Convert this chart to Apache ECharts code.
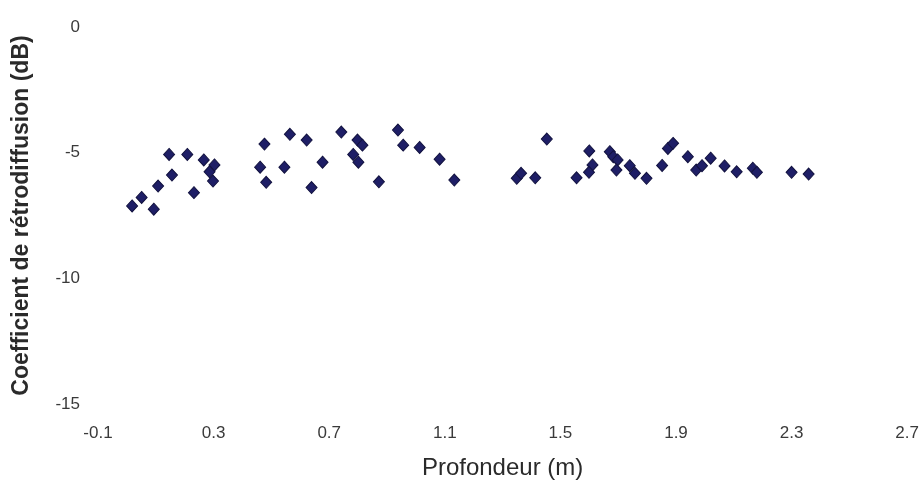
<!DOCTYPE html>
<html>
<head>
<meta charset="utf-8">
<script src="https://cdn.jsdelivr.net/npm/echarts@6/dist/echarts.min.js"></script>
<style>
  html, body { margin: 0; padding: 0; background: #ffffff; }
  #chart { width: 922px; height: 493px; }
</style>
</head>
<body>
<div id="chart"></div>
<script>
// profondeur (m)
var depth = [
  0.018, 0.051, 0.093, 0.108, 0.146, 0.156, 0.209, 0.232, 0.266, 0.303, 0.286, 0.298,
  0.476, 0.564, 0.622, 0.461, 0.545, 0.482, 0.639, 0.677, 0.742, 0.798, 0.815, 0.783, 0.801,
  0.938, 0.956, 1.013, 0.872, 1.082, 1.133,
  1.453, 1.349, 1.364, 1.413, 1.556, 1.600, 1.611, 1.599, 1.671, 1.683, 1.698, 1.694,
  1.740, 1.758, 1.798, 1.852, 1.872, 1.890, 1.941, 1.970, 1.990, 2.020, 2.068, 2.110,
  2.166, 2.180, 2.300, 2.359
];
// coefficient de retrodiffusion (dB)
var coef = [
  -7.12, -6.78, -7.25, -6.33, -5.07, -5.89, -5.07, -6.59, -5.29, -5.49, -5.76, -6.13,
  -4.66, -4.27, -4.50, -5.58, -5.58, -6.18, -6.39, -5.38, -4.18, -4.50, -4.70, -5.07, -5.38,
  -4.10, -4.70, -4.79, -6.16, -5.26, -6.09,
  -4.46, -6.02, -5.82, -6.00, -6.00, -4.93, -5.49, -5.78, -4.96, -5.16, -5.29, -5.69,
  -5.52, -5.82, -6.02, -5.51, -4.83, -4.63, -5.16, -5.69, -5.52, -5.22, -5.53, -5.76,
  -5.62, -5.78, -5.78, -5.85
];

var pts = depth.map(function (d, i) { return [d, coef[i]]; });

var chart = echarts.init(document.getElementById('chart'));
chart.setOption({
  backgroundColor: '#ffffff',
  animation: false,
  grid: { left: 98, right: 12, top: 27, bottom: 89 },
  xAxis: {
    type: 'value',
    min: -0.1,
    max: 2.7,
    interval: 0.4,
    name: 'Profondeur (m)',
    nameLocation: 'middle',
    nameGap: 52,
    nameTextStyle: {
      fontFamily: 'Liberation Sans, Arial, sans-serif',
      fontSize: 24,
      color: '#2a2a2a'
    },
    axisLine: { show: false },
    axisTick: { show: false },
    splitLine: { show: false },
    axisLabel: {
      margin: 21,
      fontFamily: 'Liberation Sans, Arial, sans-serif',
      fontSize: 17,
      color: '#3a3a3a',
      formatter: function (v) { return v.toFixed(1); }
    }
  },
  yAxis: {
    type: 'value',
    min: -15,
    max: 0,
    interval: 5,
    name: 'Coefficient de rétrodiffusion (dB)',
    nameLocation: 'middle',
    nameGap: 65,
    nameTextStyle: {
      fontFamily: 'Liberation Sans, Arial, sans-serif',
      fontWeight: 'bold',
      fontSize: 23,
      color: '#2a2a2a'
    },
    axisLine: { show: false },
    axisTick: { show: false },
    splitLine: { show: false },
    axisLabel: {
      margin: 18,
      fontFamily: 'Liberation Sans, Arial, sans-serif',
      fontSize: 17,
      color: '#3a3a3a'
    }
  },
  series: [{
    type: 'scatter',
    data: pts,
    symbol: 'diamond',
    symbolSize: [11, 12],
    itemStyle: {
      color: '#1e1e66',
      borderColor: '#12123f',
      borderWidth: 1,
      opacity: 1
    }
  }]
});
</script>
</body>
</html>
